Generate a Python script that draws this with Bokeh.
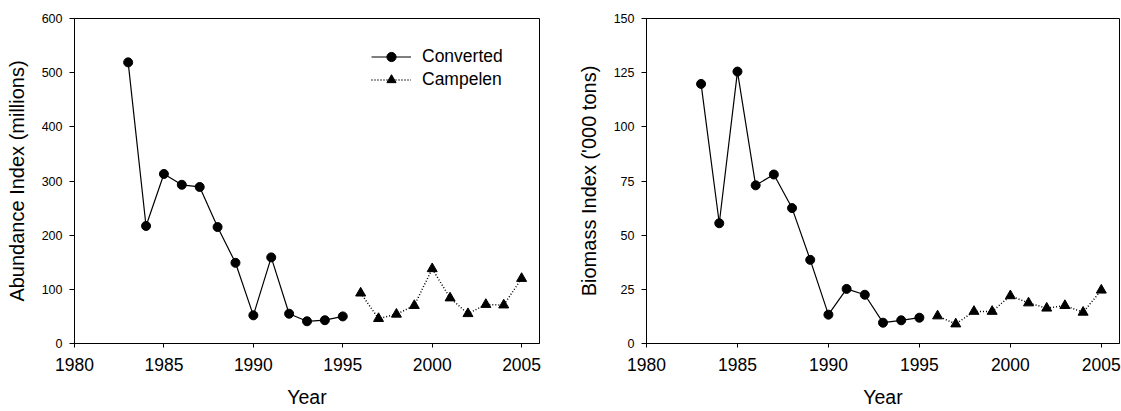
from bokeh.plotting import figure
from bokeh.layouts import row
from bokeh.models import Range1d, FixedTicker, Legend, LegendItem
from bokeh.embed import file_html
from bokeh.resources import INLINE

# ---- data ----
conv_years = [1983, 1984, 1985, 1986, 1987, 1988, 1989, 1990, 1991, 1992, 1993, 1994, 1995]
camp_years = [1996, 1997, 1998, 1999, 2000, 2001, 2002, 2003, 2004, 2005]

abund_conv = [519, 217, 313, 293, 289, 215, 149, 52, 159, 55, 41, 43, 50]
abund_camp = [93, 46, 54, 70, 138, 84, 55, 72, 71, 120]

biom_conv = [119.8, 55.5, 125.5, 73, 78, 62.5, 38.6, 13.3, 25.2, 22.5, 9.6, 10.7, 11.9]
biom_camp = [12.7, 9.0, 14.8, 14.8, 22.0, 18.7, 16.3, 17.5, 14.4, 24.6]

year_ticks = [1980, 1985, 1990, 1995, 2000, 2005]
abund_ticks = [0, 100, 200, 300, 400, 500, 600]
biom_ticks = [0, 25, 50, 75, 100, 125, 150]

FONT = "Liberation Sans"


def style(p, yticks, ylabel):
    p.outline_line_color = "black"
    p.outline_line_width = 1
    p.background_fill_color = "white"
    p.border_fill_color = "white"
    p.xgrid.visible = False
    p.ygrid.visible = False
    p.xaxis.ticker = FixedTicker(ticks=year_ticks, minor_ticks=[])
    p.yaxis.ticker = FixedTicker(ticks=yticks, minor_ticks=[])
    for ax in (p.xaxis[0], p.yaxis[0]):
        ax.axis_line_color = "black"
        ax.axis_line_width = 1
        ax.major_tick_line_color = "black"
        ax.major_tick_line_width = 1
        ax.major_tick_in = 0
        ax.minor_tick_line_color = None
        ax.major_label_text_font = FONT
        ax.major_label_text_color = "black"
        ax.axis_label_text_font = FONT
        ax.axis_label_text_font_style = "normal"
        ax.axis_label_text_color = "black"
    p.xaxis.major_tick_out = 4
    p.xaxis.major_label_standoff = 10
    p.xaxis.major_label_text_font_size = "17.5px"
    p.xaxis.axis_label = "Year"
    p.xaxis.axis_label_text_font_size = "19.5px"
    p.xaxis.axis_label_standoff = 12
    p.yaxis.major_tick_out = 5
    p.yaxis.major_label_standoff = 7
    p.yaxis.major_label_text_font_size = "12.5px"
    p.yaxis.axis_label = ylabel
    p.yaxis.axis_label_text_font_size = "20px"
    p.yaxis.axis_label_standoff = 11


def draw(p, yc, yp):
    l1 = p.line(conv_years, yc, line_color="black", line_width=1.2)
    s1 = p.scatter(conv_years, yc, marker="circle", size=9, fill_color="black", line_color="black")
    l2 = p.line(camp_years, yp, line_color="black", line_width=1.5, line_dash="1 2")
    s2 = p.scatter(camp_years, yp, marker="triangle", size=10, fill_color="black", line_color="black")
    return (l1, s1), (l2, s2)


p1 = figure(width=571, height=411, x_range=Range1d(1980, 2006), y_range=Range1d(0, 600),
            output_backend="svg", toolbar_location=None,
            min_border_left=74, min_border_right=32, min_border_top=18, min_border_bottom=68)
style(p1, abund_ticks, "Abundance Index (millions)")
r_conv, r_camp = draw(p1, abund_conv, abund_camp)

legend = Legend(items=[LegendItem(label="Converted", renderers=list(r_conv)),
                       LegendItem(label="Campelen", renderers=list(r_camp))],
                location=(297, 252), orientation="vertical",
                glyph_width=40, glyph_height=23, label_height=23, label_standoff=11,
                label_text_font=FONT, label_text_font_size="17.5px", label_text_color="black",
                padding=0, margin=0, spacing=0,
                border_line_color=None, background_fill_alpha=0)
p1.add_layout(legend, "center")

p2 = figure(width=550, height=411, x_range=Range1d(1980, 2006), y_range=Range1d(0, 150),
            output_backend="svg", toolbar_location=None,
            min_border_left=75, min_border_right=2, min_border_top=13, min_border_bottom=68)
style(p2, biom_ticks, "Biomass Index ('000 tons)")
draw(p2, biom_conv, biom_camp)

layout = row(p1, p2)
open("out.html", "w").write(file_html(layout, INLINE))
